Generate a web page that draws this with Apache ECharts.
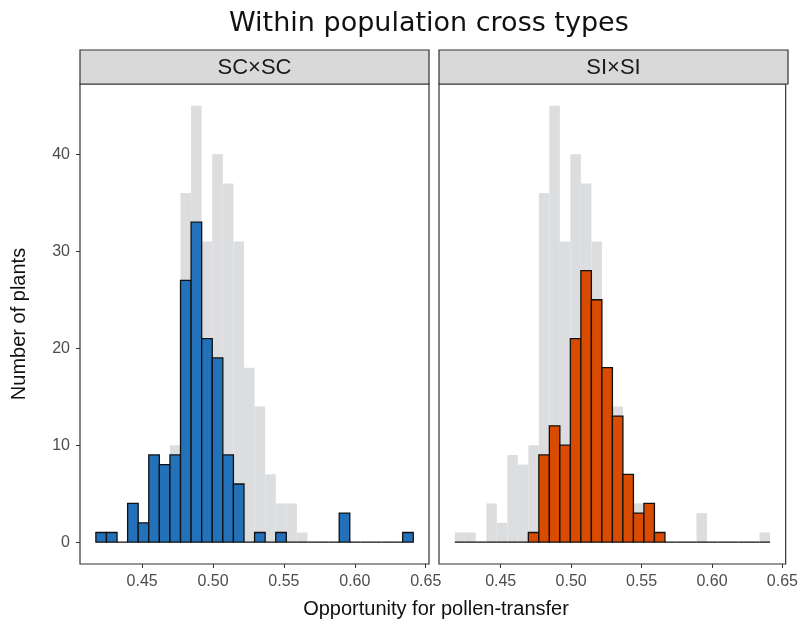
<!DOCTYPE html>
<html>
<head>
<meta charset="utf-8">
<script src="https://cdn.jsdelivr.net/npm/echarts@6/dist/echarts.min.js"></script>
<style>
  html, body { margin: 0; padding: 0; background: #fff; }
  #chart { width: 801px; height: 622px; }
</style>
</head>
<body>
<div id="chart"></div>
<script>
// histogram bins (30 bins, same breaks in both panels)
const binStart = 0.4174;
const binWidth = 0.00746;
// all plants (grey background)
const allCounts = [1, 1, 0, 4, 2, 9, 8, 10, 36, 45, 31, 40, 37, 31, 18, 14, 7, 4, 4, 1, 0, 0, 0, 3, 0, 0, 0, 0, 0, 1];
// SC x SC
const scCounts = [1, 1, 0, 4, 2, 9, 8, 9, 27, 33, 21, 19, 9, 6, 0, 1, 0, 1, 0, 0, 0, 0, 0, 3, 0, 0, 0, 0, 0, 1];
// SI x SI
const siCounts = [0, 0, 0, 0, 0, 0, 0, 1, 9, 12, 10, 21, 28, 25, 18, 13, 7, 3, 4, 1, 0, 0, 0, 0, 0, 0, 0, 0, 0, 0];
const panelNames = ['SC×SC', 'SI×SI'];
const xTicks = [0.45, 0.50, 0.55, 0.60, 0.65];
const yTicks = [0, 10, 20, 30, 40];

function toBins(counts) {
    return counts.map(function (c, i) {
        return [binStart + i * binWidth, binStart + (i + 1) * binWidth, c];
    });
}

function renderBar(params, api) {
    const p0 = api.coord([api.value(0), 0]);
    const p1 = api.coord([api.value(1), api.value(2)]);
    return {
        type: 'rect',
        shape: { x: p0[0], y: p1[1], width: p1[0] - p0[0], height: p0[1] - p1[1] },
        style: api.style()
    };
}

const grids = [
    { left: 80, top: 84, width: 349, height: 480 },
    { left: 439, top: 84, width: 349, height: 480 }
];

const tickFont = { color: '#4d4d4d', fontSize: 16, fontFamily: 'Liberation Sans' };

const myChart = echarts.init(document.getElementById('chart'));
myChart.setOption({
    animation: false,
    backgroundColor: '#fff',
    title: {
        text: 'Within population cross types',
        left: 224, top: 5,
        textStyle: { fontFamily: 'DejaVu Sans', fontSize: 27, fontWeight: 'normal', color: '#111' }
    },
    grid: grids.map(function (g) {
        return Object.assign({ show: true, borderColor: '#333', borderWidth: 1.2, backgroundColor: '#fff' }, g);
    }),
    xAxis: [0, 1].map(function (i) {
        return {
            type: 'value', gridIndex: i, min: 0.4062, max: 0.6523,
            splitLine: { show: false },
            axisLine: { show: false, onZero: false },
            axisTick: { show: true, length: 4, lineStyle: { color: '#333' }, customValues: xTicks },
            axisLabel: Object.assign({ margin: 10, customValues: xTicks,
                formatter: function (v) { return v.toFixed(2); } }, tickFont)
        };
    }),
    yAxis: [0, 1].map(function (i) {
        return {
            type: 'value', gridIndex: i, min: -2.25, max: 47.25,
            splitLine: { show: false },
            axisLine: { show: false, onZero: false },
            axisTick: { show: i === 0, length: 4, lineStyle: { color: '#333' }, customValues: yTicks },
            axisLabel: Object.assign({ show: i === 0, margin: 10, customValues: yTicks }, tickFont)
        };
    }),
    graphic: [
        { type: 'rect', shape: { x: 80, y: 50, width: 349, height: 34 },
          style: { fill: '#d9d9d9', stroke: '#333', lineWidth: 1.2 } },
        { type: 'rect', shape: { x: 439, y: 50, width: 349, height: 34 },
          style: { fill: '#d9d9d9', stroke: '#333', lineWidth: 1.2 } },
        { type: 'text', x: 254.5, y: 68,
          style: { text: panelNames[0], fill: '#1a1a1a', font: '22px "Liberation Sans"', textAlign: 'center', textVerticalAlign: 'middle' } },
        { type: 'text', x: 613.5, y: 68,
          style: { text: panelNames[1], fill: '#1a1a1a', font: '22px "Liberation Sans"', textAlign: 'center', textVerticalAlign: 'middle' } },
        { type: 'text', x: 436, y: 609,
          style: { text: 'Opportunity for pollen-transfer', fill: '#111', font: '20px "Liberation Sans"', textAlign: 'center', textVerticalAlign: 'middle' } },
        { type: 'text', x: 19, y: 324, rotation: Math.PI / 2,
          style: { text: 'Number of plants', fill: '#111', font: '20px "Liberation Sans"', textAlign: 'center', textVerticalAlign: 'middle' } }
    ],
    series: [
        { type: 'custom', xAxisIndex: 0, yAxisIndex: 0, renderItem: renderBar, data: toBins(allCounts),
          itemStyle: { color: '#dcdddf', borderWidth: 0 } },
        { type: 'custom', xAxisIndex: 1, yAxisIndex: 1, renderItem: renderBar, data: toBins(allCounts),
          itemStyle: { color: '#dcdddf', borderWidth: 0 } },
        { type: 'custom', xAxisIndex: 0, yAxisIndex: 0, renderItem: renderBar, data: toBins(scCounts),
          itemStyle: { color: '#2372b9', borderColor: '#111', borderWidth: 1.3 } },
        { type: 'custom', xAxisIndex: 1, yAxisIndex: 1, renderItem: renderBar, data: toBins(siCounts),
          itemStyle: { color: '#d84b00', borderColor: '#111', borderWidth: 1.3 } }
    ]
});
</script>
</body>
</html>
